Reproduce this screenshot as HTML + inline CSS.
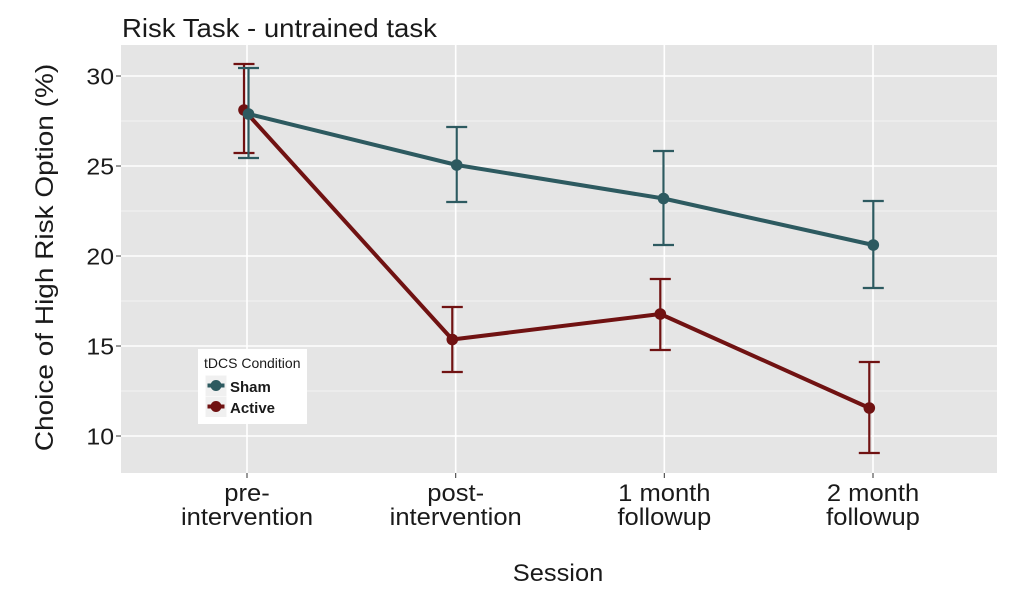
<!DOCTYPE html>
<html>
<head>
<meta charset="utf-8">
<style>
  html, body { margin: 0; padding: 0; background: #ffffff; }
  svg { display: block; }
  text { font-family: "Liberation Sans", Arial, sans-serif; fill: #1a1a1a; }
</style>
</head>
<body>
<svg width="1024" height="595" viewBox="0 0 1024 595" xmlns="http://www.w3.org/2000/svg">
  <rect x="0" y="0" width="1024" height="595" fill="#ffffff"/>

  <!-- Title -->
  <g transform="translate(122,37) scale(1.06,1)">
    <text x="0" y="0" font-size="26">Risk Task - untrained task</text>
  </g>

  <!-- Panel -->
  <rect x="121" y="45" width="876" height="428" fill="#E5E5E5"/>

  <!-- minor grid -->
  <g stroke="#F2F2F2" stroke-width="1">
    <line x1="121" x2="997" y1="391" y2="391"/>
    <line x1="121" x2="997" y1="301" y2="301"/>
    <line x1="121" x2="997" y1="211" y2="211"/>
    <line x1="121" x2="997" y1="121" y2="121"/>
  </g>
  <!-- major grid -->
  <g stroke="#FFFFFF" stroke-width="1.6">
    <line x1="121" x2="997" y1="436" y2="436"/>
    <line x1="121" x2="997" y1="346" y2="346"/>
    <line x1="121" x2="997" y1="256" y2="256"/>
    <line x1="121" x2="997" y1="166" y2="166"/>
    <line x1="121" x2="997" y1="76" y2="76"/>
    <line x1="247" x2="247" y1="45" y2="473"/>
    <line x1="455.7" x2="455.7" y1="45" y2="473"/>
    <line x1="664.3" x2="664.3" y1="45" y2="473"/>
    <line x1="873" x2="873" y1="45" y2="473"/>
  </g>

  <!-- Active series (drawn first) -->
  <g stroke="#701212" fill="none">
    <polyline points="244,110 452.3,339.5 660.3,314 869.3,408" stroke-width="4" stroke-linejoin="round" stroke-linecap="round"/>
    <g stroke-width="2.2">
      <line x1="244" x2="244" y1="64" y2="153"/>
      <line x1="233.5" x2="254.5" y1="64" y2="64"/>
      <line x1="233.5" x2="254.5" y1="153" y2="153"/>

      <line x1="452.3" x2="452.3" y1="307" y2="372"/>
      <line x1="441.8" x2="462.8" y1="307" y2="307"/>
      <line x1="441.8" x2="462.8" y1="372" y2="372"/>

      <line x1="660.3" x2="660.3" y1="279" y2="350"/>
      <line x1="649.8" x2="670.8" y1="279" y2="279"/>
      <line x1="649.8" x2="670.8" y1="350" y2="350"/>

      <line x1="869.3" x2="869.3" y1="362" y2="453"/>
      <line x1="858.8" x2="879.8" y1="362" y2="362"/>
      <line x1="858.8" x2="879.8" y1="453" y2="453"/>
    </g>
  </g>
  <g fill="#701212">
    <circle cx="244" cy="110" r="5.8"/>
    <circle cx="452.3" cy="339.5" r="5.8"/>
    <circle cx="660.3" cy="314" r="5.8"/>
    <circle cx="869.3" cy="408" r="5.8"/>
  </g>

  <!-- Sham series -->
  <g stroke="#2D5A60" fill="none">
    <polyline points="248.5,114 456.7,165 663.5,198.5 873.3,245" stroke-width="4" stroke-linejoin="round" stroke-linecap="round"/>
    <g stroke-width="2.2">
      <line x1="248.5" x2="248.5" y1="68" y2="158"/>
      <line x1="238" x2="259" y1="68" y2="68"/>
      <line x1="238" x2="259" y1="158" y2="158"/>

      <line x1="456.7" x2="456.7" y1="127" y2="202"/>
      <line x1="446.2" x2="467.2" y1="127" y2="127"/>
      <line x1="446.2" x2="467.2" y1="202" y2="202"/>

      <line x1="663.5" x2="663.5" y1="151" y2="245"/>
      <line x1="653" x2="674" y1="151" y2="151"/>
      <line x1="653" x2="674" y1="245" y2="245"/>

      <line x1="873.3" x2="873.3" y1="201" y2="288"/>
      <line x1="862.8" x2="883.8" y1="201" y2="201"/>
      <line x1="862.8" x2="883.8" y1="288" y2="288"/>
    </g>
  </g>
  <g fill="#2D5A60">
    <circle cx="248.5" cy="114" r="5.8"/>
    <circle cx="456.7" cy="165" r="5.8"/>
    <circle cx="663.5" cy="198.5" r="5.8"/>
    <circle cx="873.3" cy="245" r="5.8"/>
  </g>

  <!-- Legend -->
  <rect x="198" y="349" width="109" height="75" fill="#FFFFFF"/>
  <g transform="translate(204,368) scale(1.0,1)">
    <text x="0" y="0" font-size="14" fill="#2a2a2a">tDCS Condition</text>
  </g>
  <rect x="205.5" y="375.5" width="21" height="20.5" fill="#F0F0F0"/>
  <rect x="205.5" y="396.5" width="21" height="20.5" fill="#F0F0F0"/>
  <line x1="207.5" x2="224.5" y1="385.5" y2="385.5" stroke="#2D5A60" stroke-width="4"/>
  <circle cx="216" cy="385.5" r="5.5" fill="#2D5A60"/>
  <line x1="207.5" x2="224.5" y1="406.5" y2="406.5" stroke="#701212" stroke-width="4"/>
  <circle cx="216" cy="406.5" r="5.5" fill="#701212"/>
  <text x="230" y="392" font-size="15" font-weight="bold">Sham</text>
  <text x="230" y="413" font-size="15" font-weight="bold">Active</text>

  <!-- Y axis ticks -->
  <g stroke="#333333" stroke-width="1">
    <line x1="116" x2="121" y1="436" y2="436"/>
    <line x1="116" x2="121" y1="346" y2="346"/>
    <line x1="116" x2="121" y1="256" y2="256"/>
    <line x1="116" x2="121" y1="166" y2="166"/>
    <line x1="116" x2="121" y1="76" y2="76"/>
  </g>
  <g font-size="23" text-anchor="end">
    <g transform="translate(114,444.3) scale(1.08,1)"><text x="0" y="0">10</text></g>
    <g transform="translate(114,354.3) scale(1.08,1)"><text x="0" y="0">15</text></g>
    <g transform="translate(114,264.3) scale(1.08,1)"><text x="0" y="0">20</text></g>
    <g transform="translate(114,174.3) scale(1.08,1)"><text x="0" y="0">25</text></g>
    <g transform="translate(114,84.3) scale(1.08,1)"><text x="0" y="0">30</text></g>
  </g>

  <!-- X axis ticks -->
  <g stroke="#333333" stroke-width="1">
    <line x1="247" x2="247" y1="473" y2="478"/>
    <line x1="455.7" x2="455.7" y1="473" y2="478"/>
    <line x1="664.3" x2="664.3" y1="473" y2="478"/>
    <line x1="873" x2="873" y1="473" y2="478"/>
  </g>
  <g font-size="24" text-anchor="middle">
    <g transform="translate(247,0) scale(1.065,1)">
      <text x="0" y="501">pre-</text>
      <text x="0" y="525">intervention</text>
    </g>
    <g transform="translate(455.7,0) scale(1.065,1)">
      <text x="0" y="501">post-</text>
      <text x="0" y="525">intervention</text>
    </g>
    <g transform="translate(664.3,0) scale(1.065,1)">
      <text x="0" y="501">1 month</text>
      <text x="0" y="525">followup</text>
    </g>
    <g transform="translate(873,0) scale(1.065,1)">
      <text x="0" y="501">2 month</text>
      <text x="0" y="525">followup</text>
    </g>
  </g>

  <!-- Axis titles -->
  <g transform="translate(558,581) scale(1.06,1)">
    <text x="0" y="0" font-size="24" text-anchor="middle">Session</text>
  </g>
  <g transform="translate(53,257.5) rotate(-90) scale(1.12,1)">
    <text x="0" y="0" font-size="25" text-anchor="middle">Choice of High Risk Option (%)</text>
  </g>
</svg>
</body>
</html>
